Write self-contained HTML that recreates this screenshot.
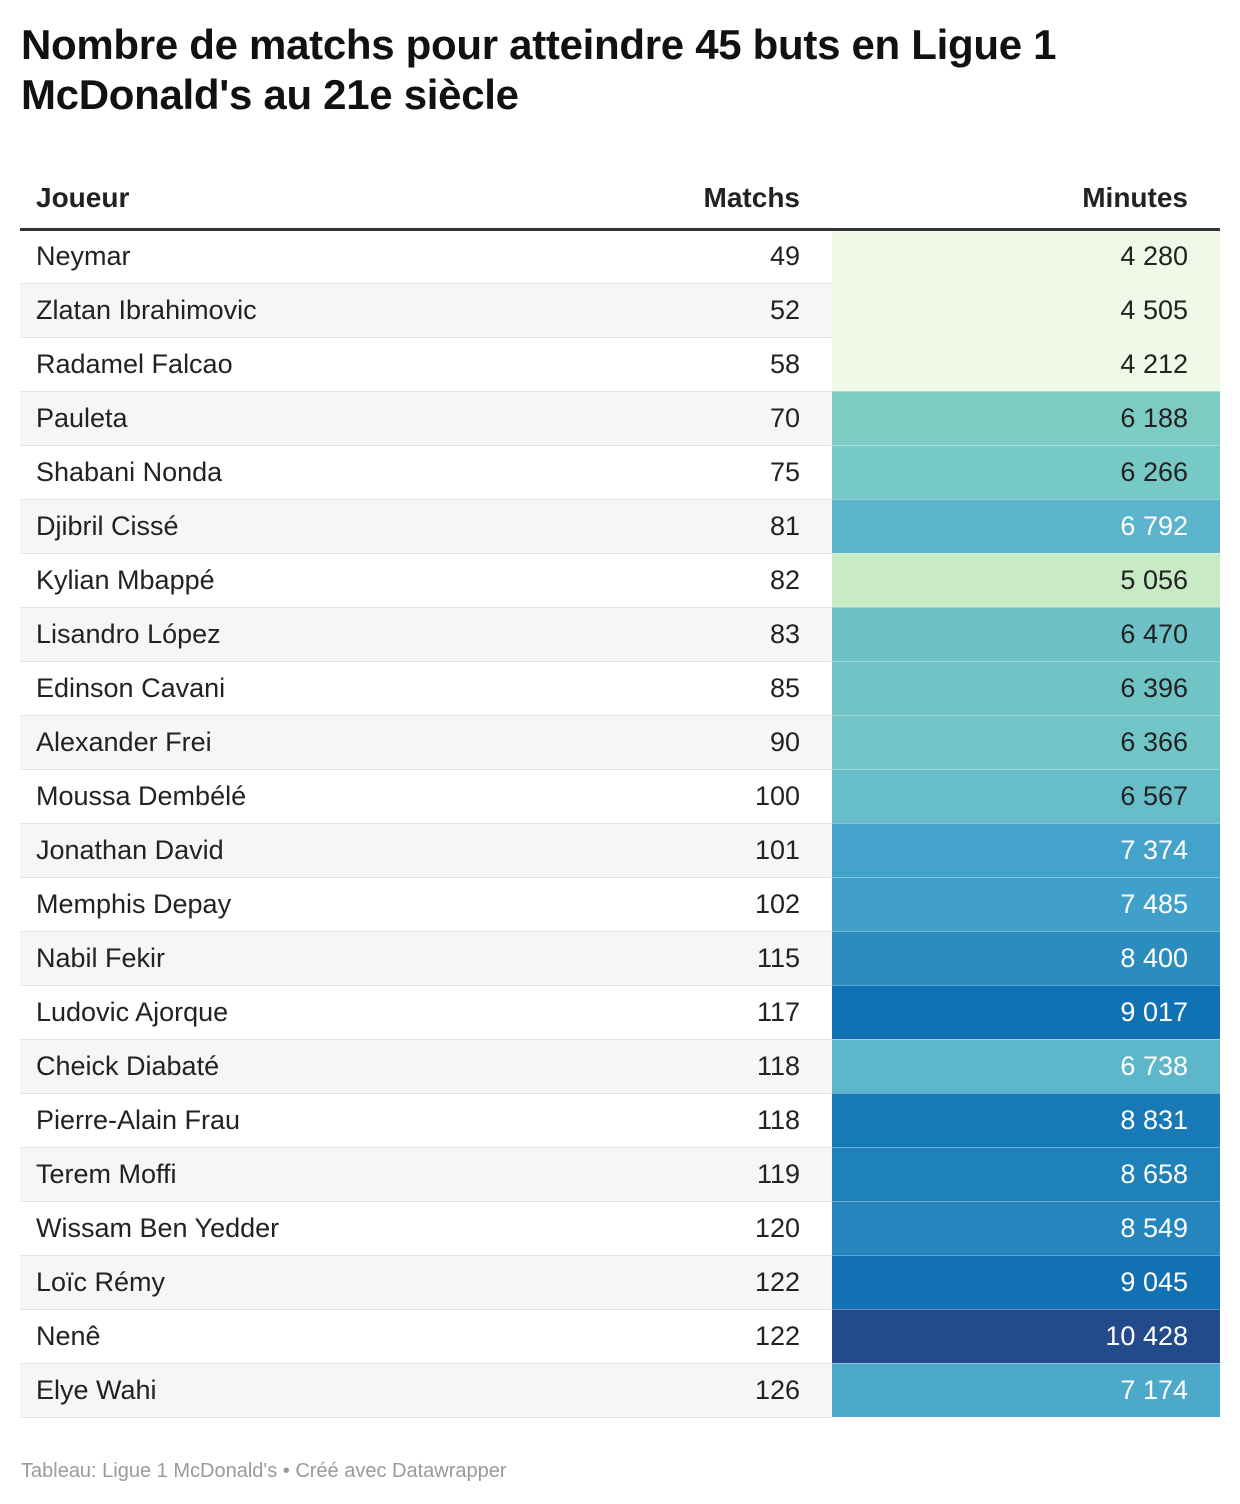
<!DOCTYPE html>
<html><head><meta charset="utf-8">
<style>
html,body{margin:0;padding:0;background:#fff;}
body{width:1240px;height:1504px;position:relative;font-family:"Liberation Sans",Arial,sans-serif;color:#222;}
#title{position:absolute;left:21px;top:20px;font-size:42px;font-weight:bold;line-height:50px;color:#111;margin:0;letter-spacing:-0.3px;}
#tbl{position:absolute;left:20px;top:168px;width:1200px;border-collapse:collapse;table-layout:fixed;}
#tbl th{font-size:28px;font-weight:bold;height:61px;padding:0 16px;border-bottom:3px solid #333;color:#222;box-sizing:border-box;}
#tbl td{font-size:27px;height:54px;padding:0 16px;border-bottom:1px solid #e4e4e4;box-sizing:border-box;}
#tbl tr.alt td{background:#f6f6f6;}
#tbl .m{padding-right:32px;}
#tbl .n{padding-right:32px;}
.l{text-align:left;}.r{text-align:right;}
#foot{position:absolute;left:21px;top:1460px;font-size:20px;color:#9a9a9a;}
</style></head><body>
<h1 id="title">Nombre de matchs pour atteindre 45 buts en Ligue 1<br>McDonald's au 21e siècle</h1>
<table id="tbl">
<colgroup><col style="width:580px"><col style="width:232px"><col style="width:388px"></colgroup>
<thead><tr>
<th class="l">Joueur</th>
<th class="r m">Matchs</th>
<th class="r n">Minutes</th>
</tr></thead>
<tbody id="body"></tbody>
</table>
<div id="foot">Tableau: Ligue 1 McDonald's • Créé avec Datawrapper</div>
<script>
const players=["Neymar","Zlatan Ibrahimovic","Radamel Falcao","Pauleta","Shabani Nonda","Djibril Cissé","Kylian Mbappé","Lisandro López","Edinson Cavani","Alexander Frei","Moussa Dembélé","Jonathan David","Memphis Depay","Nabil Fekir","Ludovic Ajorque","Cheick Diabaté","Pierre-Alain Frau","Terem Moffi","Wissam Ben Yedder","Loïc Rémy","Nenê","Elye Wahi"];
const matchs=[49,52,58,70,75,81,82,83,85,90,100,101,102,115,117,118,118,119,120,122,122,126];
const minutes=[4280,4505,4212,6188,6266,6792,5056,6470,6396,6366,6567,7374,7485,8400,9017,6738,8831,8658,8549,9045,10428,7174];
const stopVals=[4600,5000,6200,6800,7400,8400,9000,10428];
const stopCols=[[240,249,232],[204,235,197],[123,204,196],[91,180,203],[67,162,202],[43,140,190],[16,114,180],[35,74,138]];
function color(v){
  if(v<=stopVals[0])return stopCols[0];
  for(let i=1;i<stopVals.length;i++){
    if(v<=stopVals[i]){const t=(v-stopVals[i-1])/(stopVals[i]-stopVals[i-1]);
      return stopCols[i].map((c,k)=>Math.round(stopCols[i-1][k]+(c-stopCols[i-1][k])*t));}
  }
  return stopCols[stopCols.length-1];
}
function fmt(n){return String(n).replace(/\B(?=(\d{3})+(?!\d))/g," ");}
const body=document.getElementById("body");
players.forEach((p,i)=>{
  const tr=document.createElement("tr");
  
  
  if(i%2===1)tr.className="alt";
  const a=document.createElement("td");a.className="l";a.textContent=p;
  
  
  const b=document.createElement("td");b.className="r m";b.textContent=matchs[i];
  
  
  const c=document.createElement("td");c.className="r n";c.textContent=fmt(minutes[i]);
  
  
  const col=color(minutes[i]);
  c.style.background="rgb("+col.join(",")+")";
  c.style.color=minutes[i]>=6700?"#fff":"#222";
  c.style.borderBottom="1px solid rgba(255,255,255,0.35)";
  tr.append(a,b,c);body.appendChild(tr);
});
</script>
</body></html>
